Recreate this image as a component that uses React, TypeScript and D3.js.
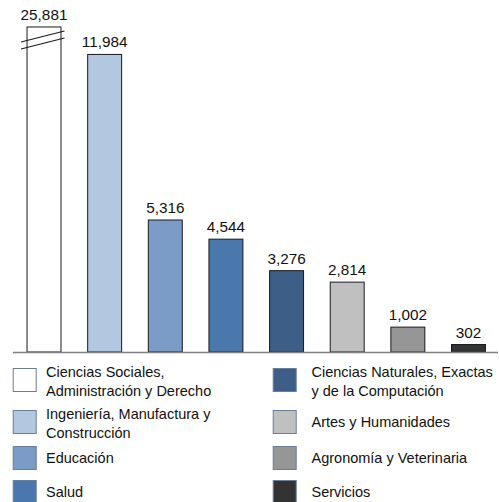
import React from "react";
import * as d3 from "d3";

const categories = [
  "Ciencias Sociales, Administración y Derecho",
  "Ingeniería, Manufactura y Construcción",
  "Educación",
  "Salud",
  "Ciencias Naturales, Exactas y de la Computación",
  "Artes y Humanidades",
  "Agronomía y Veterinaria",
  "Servicios",
];
const values = [25881, 11984, 5316, 4544, 3276, 2814, 1002, 302];
const colors = ["#ffffff", "#b4c7e0", "#7a9cc6", "#4a78ac", "#3d5e87", "#c0c0c0", "#969696", "#333333"];
const legendLines = [
  ["Ciencias Sociales,", "Administración y Derecho"],
  ["Ingeniería, Manufactura y", "Construcción"],
  ["Educación"],
  ["Salud"],
  ["Ciencias Naturales, Exactas", "y de la Computación"],
  ["Artes y Humanidades"],
  ["Agronomía y Veterinaria"],
  ["Servicios"],
];
const breakCap = 13090;

const W = 499;
const H = 502;
const baseY = 352;
const font = "Liberation Sans, Arial, Helvetica, sans-serif";

export default function App() {
  const x = d3
    .scaleBand<string>()
    .domain(categories)
    .range([13.7, 498.8])
    .paddingInner(0.44)
    .paddingOuter(0.22);
  const y = d3.scaleLinear().domain([0, 13500]).range([baseY, baseY - 13500 * 0.02483]);
  const fmt = d3.format(",");

  const rowTops = [368, 410, 446, 480];
  const colX = [12.7, 272.7];
  const textX = [46, 311.5];
  const sq = 24;

  return (
    <svg
      width={W}
      height={H}
      style={{ position: "absolute", left: 0, top: 0, display: "block", background: "#fff", fontFamily: font }}
    >
      {categories.map((c, i) => {
        const v = values[i];
        const shown = Math.min(v, breakCap);
        const top = y(shown);
        const bx = x(c)!;
        const bw = x.bandwidth();
        return (
          <g key={c}>
            <rect
              x={bx}
              y={top}
              width={bw}
              height={baseY - top}
              fill={colors[i]}
              stroke="#1a1a1a"
              strokeWidth={1}
            />
            <text
              x={bx + bw / 2}
              y={top - 7}
              textAnchor="middle"
              style={{ fontFamily: font }}
              fontSize={15.3}
              fill="#111"
            >
              {fmt(v)}
            </text>
            {v > breakCap && (
              <g stroke="#1a1a1a" strokeWidth={1.1}>
                <line x1={bx - 6} y1={top + 15} x2={bx + bw + 3.5} y2={top + 4} />
                <line x1={bx - 6} y1={top + 22} x2={bx + bw + 3.5} y2={top + 11} />
              </g>
            )}
          </g>
        );
      })}
      <line x1={13} x2={498} y1={baseY + 0.5} y2={baseY + 0.5} stroke="#7f7f7f" strokeWidth={1.5} />

      {categories.map((c, i) => {
        const col = Math.floor(i / 4);
        const row = i % 4;
        const top = rowTops[row];
        const lines = legendLines[i];
        return (
          <g key={"lg" + c}>
            <rect
              x={colX[col] + 0.5}
              y={top + 0.5}
              width={sq - 1}
              height={sq - 1}
              fill={colors[i]}
              stroke="#6a7d98"
              strokeWidth={1}
            />
            {lines.map((t, k) => (
              <text
                key={k}
                x={textX[col]}
                y={lines.length === 1 ? top + 17 : top + 9 + k * 18.5}
                style={{ fontFamily: font }}
                fontSize={14.5}
                fill="#111"
              >
                {t}
              </text>
            ))}
          </g>
        );
      })}
    </svg>
  );
}
